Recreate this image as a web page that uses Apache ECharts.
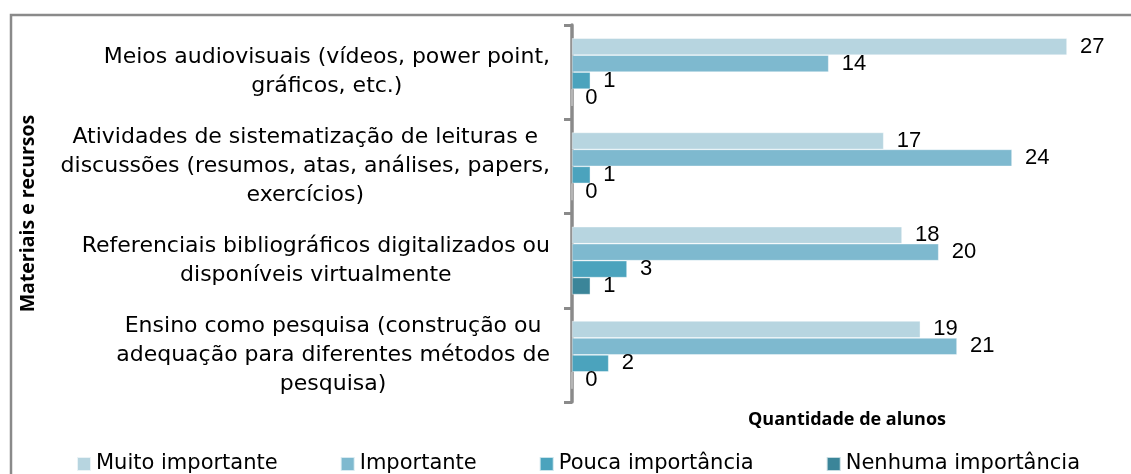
<!DOCTYPE html>
<html>
<head>
<meta charset="utf-8">
<script src="https://cdn.jsdelivr.net/npm/echarts@6/dist/echarts.min.js"></script>
<style>
  html, body { margin: 0; padding: 0; background: #fff; }
  #chart { width: 1131px; height: 474px; }
</style>
</head>
<body>
<div id="chart"></div>
<script>
// categories, top to bottom (line breaks as in the original chart)
const categories = [
  "Meios audiovisuais (vídeos, power point,\ngráficos, etc.)",
  "Atividades de sistematização de leituras e\ndiscussões (resumos, atas, análises, papers,\nexercícios)",
  "Referenciais bibliográficos digitalizados ou\ndisponíveis virtualmente",
  "Ensino como pesquisa (construção ou\nadequação para diferentes métodos de\npesquisa)"
];

const seriesNames = ["Muito importante", "Importante", "Pouca importância", "Nenhuma importância"];
const muitoImportante = [27, 17, 18, 19];
const importante = [14, 24, 20, 21];
const poucaImportancia = [1, 1, 3, 2];
const nenhumaImportancia = [0, 0, 1, 0];

const colors = ["#b7d5e0", "#7eb9cf", "#4ba3bd", "#3b8599"];
const values = [muitoImportante, importante, poucaImportancia, nenhumaImportancia];

const chart = echarts.init(document.getElementById("chart"), null, { renderer: "canvas" });

const series = seriesNames.map((name, i) => ({
  name: name,
  type: "bar",
  data: values[i],
  barGap: 0,
  barCategoryGap: "28%",
  itemStyle: { color: colors[i], borderColor: "rgba(255,255,255,0.7)", borderWidth: 0.6 },
  label: {
    show: true,
    position: "right",
    distance: 13,
    color: "#000",
    fontFamily: "Liberation Sans",
    fontSize: 22
  }
}));

// the legend text in the original is wider for "Pouca importância"
const legendData = seriesNames.map((name, i) =>
  i === 2 ? { name: name, textStyle: { width: 205 } } : { name: name }
);

const option = {
  backgroundColor: "#fff",
  animation: false,
  color: colors,
  grid: { left: 572, right: 9, top: 25, bottom: 72 },
  xAxis: {
    type: "value",
    min: 0,
    max: 30,
    axisLine: { show: false },
    axisTick: { show: false },
    axisLabel: { show: false },
    splitLine: { show: false },
    name: "Quantidade de alunos",
    nameLocation: "middle",
    nameGap: 9,
    nameTextStyle: {
      fontFamily: "Open Sans",
      fontWeight: "bold",
      fontSize: 18,
      color: "#000",
      verticalAlign: "top"
    }
  },
  yAxis: {
    type: "category",
    data: categories,
    inverse: true,
    offset: 2,
    axisLine: { show: true, lineStyle: { color: "#8a8a8a", width: 3.5 } },
    axisTick: { show: true, length: 8, lineStyle: { color: "#8a8a8a", width: 3 } },
    axisLabel: {
      margin: 20,
      align: "right",
      color: "#000",
      fontFamily: "DejaVu Sans",
      fontSize: 22,
      lineHeight: 29,
      formatter: (v) => v.split("\n").map((l) => "{c|" + l + "}").join("\n"),
      rich: {
        c: { align: "center", fontFamily: "DejaVu Sans", fontSize: 22, lineHeight: 29, color: "#000" }
      }
    },
    name: "Materiais e recursos",
    nameLocation: "middle",
    nameRotate: 90,
    nameGap: 532,
    nameTextStyle: {
      fontFamily: "Open Sans",
      fontWeight: "bold",
      fontSize: 19.5,
      color: "#000"
    }
  },
  legend: {
    left: 76,
    top: 453,
    padding: 0,
    itemWidth: 14,
    itemHeight: 14,
    itemGap: 62,
    icon: "rect",
    data: legendData,
    textStyle: { fontFamily: "DejaVu Sans", fontSize: 21, color: "#000", lineHeight: 22 }
  },
  graphic: [
    {
      type: "rect",
      silent: true,
      shape: { x: 11, y: 15, width: 1300, height: 700 },
      style: { fill: null, stroke: "#8a8a8a", lineWidth: 2.5 }
    }
  ],
  series: series
};

chart.setOption(option);
window.addEventListener("resize", () => chart.resize());
</script>
</body>
</html>
